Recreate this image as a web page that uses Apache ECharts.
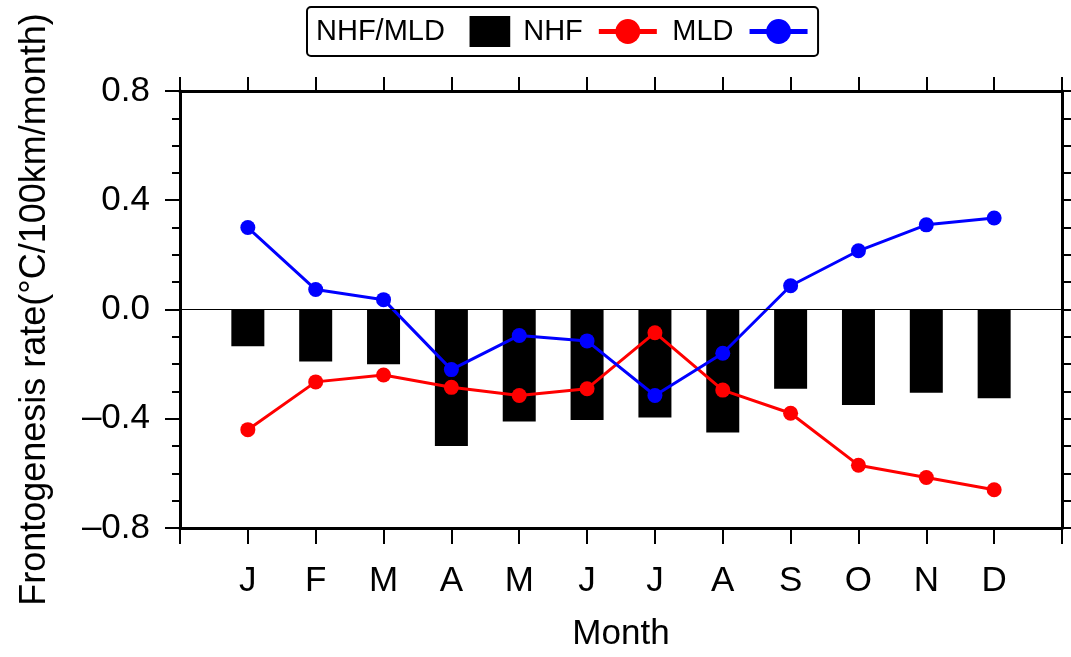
<!DOCTYPE html>
<html>
<head>
<meta charset="utf-8">
<script src="https://cdn.jsdelivr.net/npm/echarts@6/dist/echarts.min.js"></script>
<style>
  html, body { margin: 0; padding: 0; background: #fff; overflow: hidden; }
  #container { width: 1071px; height: 657px; }
</style>
</head>
<body>
<div id="container"></div>
<script>
var months = ['J', 'F', 'M', 'A', 'M', 'J', 'J', 'A', 'S', 'O', 'N', 'D'];

// black bars
var nhfMld = [-0.135, -0.19, -0.20, -0.50, -0.41, -0.405, -0.395, -0.45, -0.29, -0.35, -0.305, -0.325];
// red line
var nhf = [-0.44, -0.265, -0.24, -0.285, -0.315, -0.29, -0.085, -0.295, -0.38, -0.57, -0.615, -0.66];
// blue line
var mld = [0.30, 0.073, 0.036, -0.22, -0.095, -0.115, -0.315, -0.16, 0.087, 0.215, 0.31, 0.335];

var yTicks = [-0.8, -0.4, 0.0, 0.4, 0.8];

var font = '"Liberation Sans", Arial, Helvetica, sans-serif';

function toPoints(arr){
    return arr.map(function (v, i) { return [i + 1, v]; });
}

function init(){
    var chart = echarts.init(document.getElementById('container'), null, {renderer: 'canvas'});
    var axisLine = { show: true, onZero: false, lineStyle: { color: '#000', width: 3 } };
    var option = {
        backgroundColor: '#fff',
        animation: false,
        textStyle: { fontFamily: font },
        legend: {
            left: 307,
            top: 7,
            align: 'right',
            orient: 'horizontal',
            itemWidth: 58,
            itemHeight: 31,
            itemGap: 13,
            padding: [9, 8, 9, 9],
            borderColor: '#000',
            borderWidth: 2,
            borderRadius: 4,
            textStyle: { fontFamily: font, fontSize: 29, color: '#000', padding: [0, 11, 0, 0] },
            data: [
                { name: 'NHF/MLD', icon: 'path://M0,0 L42,0 L42,32 L0,32 Z' },
                { name: 'NHF', lineStyle: { width: 5 } },
                { name: 'MLD', lineStyle: { width: 5 } }
            ]
        },
        grid: { left: 180, right: 9, top: 91, bottom: 125, containLabel: false },
        xAxis: [{
            type: 'value',
            min: 0, max: 13, interval: 1,
            position: 'bottom',
            name: 'Month',
            nameLocation: 'middle',
            nameGap: 89,
            nameTextStyle: { fontFamily: font, fontSize: 35, color: '#000' },
            axisLine: axisLine,
            axisTick: { show: true, inside: false, length: 16, lineStyle: { color: '#000', width: 2 } },
            axisLabel: {
                margin: 36,
                fontFamily: font, fontSize: 35, color: '#000',
                formatter: function (v) { return (v >= 1 && v <= 12) ? months[v - 1] : ''; }
            },
            splitLine: { show: false }
        }, {
            type: 'value',
            min: 0, max: 13, interval: 1,
            position: 'top',
            axisLine: axisLine,
            axisTick: { show: true, inside: false, length: 14, lineStyle: { color: '#000', width: 2 } },
            axisLabel: { show: false },
            splitLine: { show: false }
        }],
        yAxis: [{
            type: 'value',
            min: -0.8, max: 0.8, interval: 0.4,
            position: 'left',
            name: 'Frontogenesis rate(°C/100km/month)',
            nameLocation: 'middle',
            nameGap: 127,
            nameRotate: 90,
            nameTextStyle: { fontFamily: font, fontSize: 36, color: '#000' },
            axisLine: axisLine,
            axisTick: { show: true, inside: false, length: 15, lineStyle: { color: '#000', width: 2 } },
            minorTick: { show: true, splitNumber: 4, length: 8, lineStyle: { color: '#000', width: 2 } },
            axisLabel: {
                margin: 30,
                fontFamily: font, fontSize: 35, color: '#000',
                formatter: function (v) {
                    var t = yTicks.reduce(function (a, b) { return Math.abs(b - v) < Math.abs(a - v) ? b : a; });
                    return t.toFixed(1).replace('-', '\u2013');
                }
            },
            splitLine: { show: false }
        }, {
            type: 'value',
            min: -0.8, max: 0.8, interval: 0.1,
            position: 'right',
            axisLine: axisLine,
            axisTick: { show: true, inside: false, length: 9, lineStyle: { color: '#000', width: 2 } },
            axisLabel: { show: false },
            splitLine: { show: false }
        }],
        series: [{
            name: 'NHF/MLD',
            type: 'bar',
            xAxisIndex: 0, yAxisIndex: 0,
            barWidth: 33,
            itemStyle: { color: '#000' },
            data: toPoints(nhfMld),
            markLine: {
                silent: true,
                symbol: 'none',
                label: { show: false },
                lineStyle: { color: '#000', width: 1, type: 'solid' },
                data: [{ yAxis: 0 }]
            },
            z: 2
        }, {
            name: 'NHF',
            type: 'line',
            xAxisIndex: 0, yAxisIndex: 0,
            symbol: 'circle',
            symbolSize: 15,
            lineStyle: { color: '#ff0000', width: 3 },
            itemStyle: { color: '#ff0000' },
            data: toPoints(nhf),
            z: 3
        }, {
            name: 'MLD',
            type: 'line',
            xAxisIndex: 0, yAxisIndex: 0,
            symbol: 'circle',
            symbolSize: 15,
            lineStyle: { color: '#0000ff', width: 3 },
            itemStyle: { color: '#0000ff' },
            data: toPoints(mld),
            z: 3
        }]
    };
    chart.setOption(option);
}

init();
</script>
</body>
</html>
